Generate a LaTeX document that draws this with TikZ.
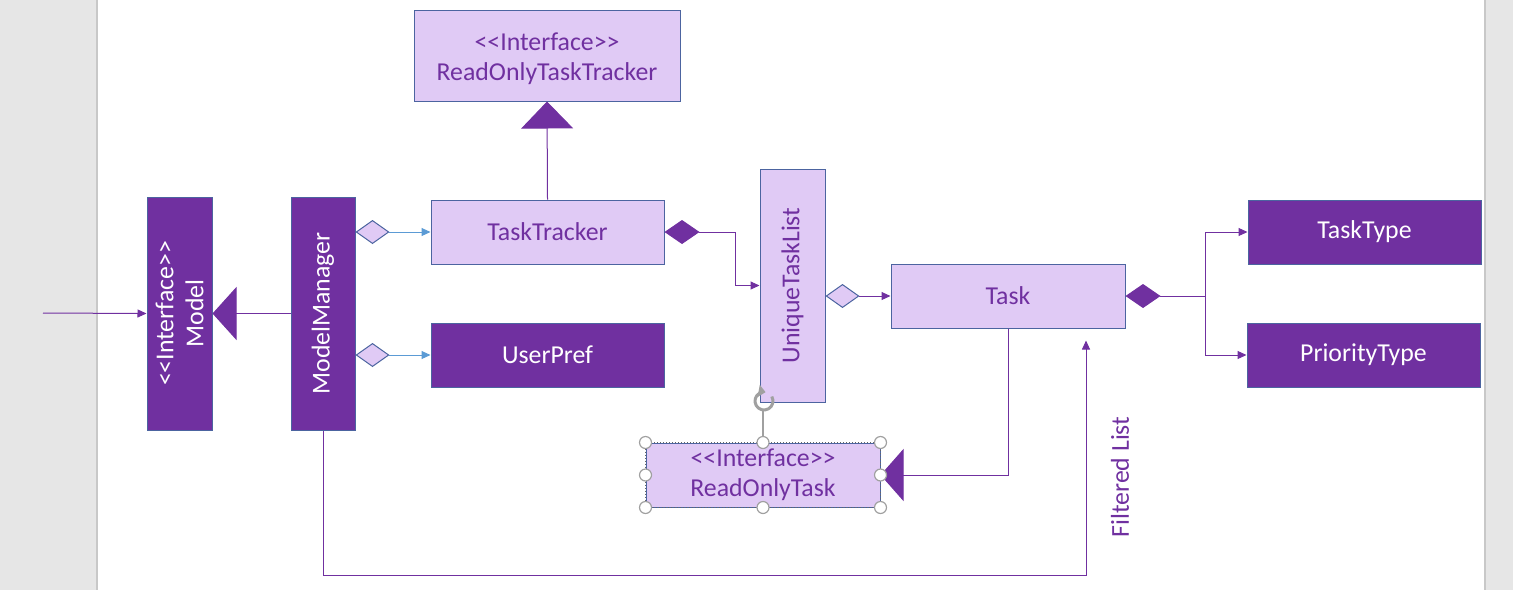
\documentclass[tikz,border=0pt]{standalone}
\usepackage{fontspec}
\setmainfont{Carlito}
\usetikzlibrary{arrows.meta,calc}
\definecolor{dk}{HTML}{7030A0}
\definecolor{lt}{HTML}{E0CAF5}
\definecolor{bd}{HTML}{4C64A0}
\definecolor{bl}{HTML}{5B9BD5}
\definecolor{mg}{HTML}{E6E6E6}
\definecolor{mgl}{HTML}{C8C8C8}
\definecolor{hd}{HTML}{A0A0A0}
\newcommand\ifc{\textless\kern0pt\textless Interface\textgreater\kern0pt\textgreater}
\begin{document}
\begin{tikzpicture}[x=0.5pt,y=-0.5pt,
  txt/.style={font=\fontsize{12.9}{15}\selectfont, align=center, inner sep=0pt},
  box/.style={draw=bd, line width=0.5pt, minimum width=116.5pt, minimum height=32pt, inner sep=0pt, txt},
  darkbox/.style={box, fill=dk, text=white},
  lightbox/.style={box, fill=lt, text=dk},
  conn/.style={draw=dk, line width=0.5pt},
  arr/.style={conn, -{Triangle[length=4.5pt,width=4pt]}},
  barr/.style={draw=bl, line width=0.5pt, {Diamond[length=17pt,width=12pt,fill=lt,color=bd,line width=0.5pt]}-{Triangle[length=4.5pt,width=4pt]}},
  oarr/.style={conn, {Diamond[length=17pt,width=12pt,fill=lt,color=bd,line width=0.5pt]}-{Triangle[length=4.5pt,width=4pt]}},
  farr/.style={conn, {Diamond[length=17.5pt,width=12pt,fill=dk,color=dk]}-{Triangle[length=4.5pt,width=4pt]}},
  handle/.style={circle, draw=hd, fill=white, line width=0.6pt, minimum size=6pt, inner sep=0pt},
]
\useasboundingbox (0,0) rectangle (1513,590);
% margins
\fill[mg] (0,0) rectangle (97,590);
\draw[mgl, line width=0.6pt] (97,0) -- (97,590);
\fill[mg] (1485,0) rectangle (1513,590);
\draw[mgl, line width=0.6pt] (1485,0) -- (1485,590);

% nodes
\node[darkbox, minimum width=32.5pt, minimum height=116.5pt] (model) at (179.5,313.5) {};
\node[txt, rotate=90, text=white] (modeltxt) at (model.center) {\ifc\\Model};
\node[darkbox, minimum width=32pt, minimum height=116.5pt] (mm) at (323,313.5) {};
\node[txt, rotate=90, text=white] (mmtxt) at (mm.center) {ModelManager};

\node[lightbox, minimum width=133pt, minimum height=45.5pt] (rott) at (547,55.5) {};
\node[txt, text=dk] (rotttxt) at ($(rott.center)+(0,3)$) {\ifc\\ReadOnlyTaskTracker};
\node[lightbox] (tt) at (547.5,232) {TaskTracker};
\node[darkbox] (up) at (547.5,355) {UserPref};

\node[lightbox, minimum width=32.5pt, minimum height=116.5pt] (utl) at (792.5,285.5) {};
\node[txt, rotate=90, text=dk] (utltxt) at (utl.center) {UniqueTaskList};

\node[lightbox, minimum width=117pt] (task) at (1008,296) {Task};
\node[darkbox] (ttype) at (1364.5,232) {TaskType};
\node[darkbox] (ptype) at (1363.5,355) {PriorityType};

\node[lightbox, minimum width=117pt] (rot) at (763,475) {\ifc\\ReadOnlyTask};

% connectors
\coordinate (in) at (43,313);
\draw[arr] (in) -- (model.west);
\draw[conn, -{Triangle[length=12pt,width=26.5pt,fill=dk,color=dk]}] (mm.west) -- (model.east);
\draw[conn, -{Triangle[length=13.5pt,width=26pt,fill=dk,color=dk]}] (tt.north) -- (rott.south);

\draw[barr] (mm.east |- tt.west) -- (tt.west);
\draw[barr] (mm.east |- up.west) -- (up.west);

\draw[farr] (tt.east) -- ($(tt.east)+(71,0)$) |- (utl.west);
\draw[oarr] (utl.east |- task.west) -- (task.west);

\coordinate (split) at ($(task.east)+(80,0)$);
\draw[farr] (task.east) -- (split) |- (ttype.west);
\draw[arr] (split) |- (ptype.west);

\draw[conn, -{Triangle[length=11.5pt,width=26pt,fill=dk,color=dk]}] (task.south) |- (rot.east);

\coordinate (fl) at (1086,575);
\draw[arr] (mm.south) |- (fl) -- ($(task.south -| fl)+(0,12)$);
\node[txt, rotate=90, text=dk] (fltxt) at (1120,477) {Filtered List};

% selection decoration on ReadOnlyTask
\draw[densely dotted, draw=black!60, line width=0.5pt] (rot.north west) rectangle (rot.south east);
\draw[hd, line width=0.6pt] (rot.north) -- ++(0,-33);
\coordinate (rc) at (764,401);
\draw[hd, line width=1.5pt, -{Triangle[length=3.5pt,width=6pt]}] (rc) ++(-30:9) arc[start angle=-30, end angle=280, radius=9];
\foreach \a in {north west,north,north east,west,east,south west,south,south east}
  \node[handle] at (rot.\a) {};
\end{tikzpicture}
\end{document}
